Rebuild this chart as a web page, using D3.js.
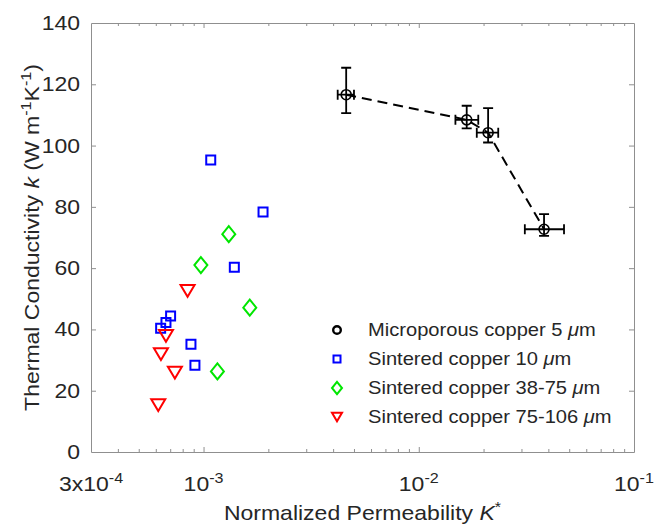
<!DOCTYPE html>
<html><head><meta charset="utf-8">
<script src="https://cdn.jsdelivr.net/npm/d3@7"></script>
<style>
body{margin:0;background:#fff}
svg text{font-family:"Liberation Sans",Arial,Helvetica,sans-serif;fill:#262626}
</style>
</head><body>
<svg id="c" width="654" height="527"></svg>
<script>
// ---------------- data ----------------
// Microporous copper 5 um (with error bars)
const microK      = [4.6e-3, 0.0167, 0.0210, 0.0382];
const microKLow   = [4.2e-3, 0.0148, 0.0186, 0.0311];
const microKHigh  = [5.0e-3, 0.0189, 0.0234, 0.0473];
const microk      = [116.6, 108.4, 104.2, 72.7];
const microkLow   = [110.6, 105.6, 101.0, 70.5];
const microkHigh  = [125.4, 113.0, 112.2, 77.6];
// Sintered copper 10 um
const s10K = [1.08e-3, 1.89e-3, 1.39e-3, 7.03e-4, 6.69e-4, 6.32e-4, 8.74e-4, 9.12e-4];
const s10k = [95.3, 78.3, 60.3, 44.4, 42.3, 40.4, 35.2, 28.3];
// Sintered copper 38-75 um
const s38K = [1.31e-3, 9.72e-4, 1.64e-3, 1.16e-3];
const s38k = [71.1, 61.0, 47.1, 26.3];
// Sintered copper 75-106 um
const s75K = [8.43e-4, 6.69e-4, 6.34e-4, 7.36e-4, 6.16e-4];
const s75k = [52.6, 37.9, 31.9, 25.9, 15.3];

const xDomain = [3e-4, 0.1];
const yDomain = [0, 140];
const xMajor = [3e-4, 1e-3, 1e-2, 1e-1];
const xTickBase = ["3x10", "10", "10", "10"];
const xTickExp = ["-4", "-3", "-2", "-1"];
const xMinor = [4e-4,5e-4,6e-4,7e-4,8e-4,9e-4,2e-3,3e-3,4e-3,5e-3,6e-3,7e-3,8e-3,9e-3,2e-2,3e-2,4e-2,5e-2,6e-2,7e-2,8e-2,9e-2];
const yTicks = [0, 20, 40, 60, 80, 100, 120, 140];
const legendLabels = ["Microporous copper 5 ", "Sintered copper 10 ", "Sintered copper 38-75 ", "Sintered copper 75-106 "];
const legendColors = ["#000000", "#0000ff", "#00e600", "#ff0000"];
const legendShapes = ["circle", "square", "diamond", "triangle"];

// ---------------- layout ----------------
const SX = 1.15; // horizontal glyph stretch
const svg = d3.select("#c");
const x = d3.scaleLog().domain(xDomain).range([91, 634]);
const y = d3.scaleLinear().domain(yDomain).range([452, 23]);
const axisColor = "#8f8f8f";

function stretch(sel, px, py, rot) {
  sel.attr("x", 0).attr("y", 0)
     .attr("transform", `translate(${px},${py})` + (rot ? ` rotate(${rot})` : "") + ` scale(${SX},1)`);
}
function rich(sel, parts, fs) {
  let prevSup = false;
  parts.forEach(p => {
    const t = sel.append("tspan").text(p.t);
    if (p.italic) t.attr("font-style", "italic");
    if (p.sup) { t.attr("font-size", fs * 0.7).attr("dy", prevSup ? 0 : -fs * 0.42); }
    else if (prevSup) { t.attr("dy", fs * 0.42); }
    prevSup = !!p.sup;
  });
}

// ---------------- axes ----------------
const gAx = svg.append("g");
function styleAxis(g) {
  g.selectAll("path.domain").attr("stroke", axisColor).attr("stroke-width", 1);
  g.selectAll(".tick line").attr("stroke", axisColor).attr("stroke-width", 1);
  g.selectAll(".tick text").remove();
}
[[d3.axisBottom, 452], [d3.axisTop, 23]].forEach(([ax, pos]) => {
  const gMaj = gAx.append("g").attr("transform", `translate(0,${pos})`)
    .call(ax(x).tickValues(xMajor.slice(1, 3)).tickSizeInner(-5).tickSizeOuter(0).tickFormat(""));
  styleAxis(gMaj);
  const gMin = gAx.append("g").attr("transform", `translate(0,${pos})`)
    .call(ax(x).tickValues(xMinor).tickSizeInner(-3).tickSizeOuter(0).tickFormat(""));
  styleAxis(gMin); gMin.select("path.domain").remove();
});
[[d3.axisLeft, 91], [d3.axisRight, 634]].forEach(([ax, pos]) => {
  const g = gAx.append("g").attr("transform", `translate(${pos},0)`)
    .call(ax(y).tickValues(yTicks.slice(1, -1)).tickSizeInner(-5).tickSizeOuter(0).tickFormat(""));
  styleAxis(g);
});

// y tick labels
const fsT = 20;
gAx.append("g").selectAll("text").data(yTicks).join("text")
  .attr("font-size", fsT).attr("text-anchor", "end")
  .text(d => d)
  .each(function(d) { stretch(d3.select(this), 80, y(d) + 7); });

// x tick labels
gAx.append("g").selectAll("text").data(xMajor).join("text")
  .attr("font-size", fsT).attr("text-anchor", "middle")
  .each(function(d, i) {
    const t = d3.select(this);
    rich(t, [{t: xTickBase[i]}, {t: xTickExp[i], sup: true}], fsT);
    stretch(t, x(d), 491);
  });

// axis labels
const fsL = 20;
const xl = svg.append("text").attr("font-size", fsL).attr("text-anchor", "middle");
rich(xl, [{t: "Normalized Permeability "}, {t: "K", italic: true}, {t: "*", sup: true}], fsL);
stretch(xl, (x.range()[0] + x.range()[1]) / 2, 520);

const yl = svg.append("text").attr("font-size", fsL).attr("text-anchor", "middle");
rich(yl, [{t: "Thermal Conductivity "}, {t: "k", italic: true}, {t: " (W m"}, {t: "-1", sup: true},
          {t: "K"}, {t: "-1", sup: true}, {t: ")"}], fsL);
stretch(yl, 39, (y.range()[0] + y.range()[1]) / 2, -90);

// ---------------- marks ----------------
const shapePath = {
  square: s => `M${-s/2},${-s/2}H${s/2}V${s/2}H${-s/2}Z`,
  diamond: s => `M0,${-s*0.62}L${s/2},0L0,${s*0.62}L${-s/2},0Z`,
  triangle: s => `M${-s/2},${-s*0.42}L${s/2},${-s*0.42}L0,${s*0.42}Z`
};
const plot = svg.append("g");

const micro = microK.map((K, i) => ({K, k: microk[i], KL: microKLow[i], KH: microKHigh[i], kL: microkLow[i], kH: microkHigh[i]}));
plot.append("path").datum(micro)
  .attr("d", d3.line().x(d => x(d.K)).y(d => y(d.k)))
  .attr("fill", "none").attr("stroke", "#000").attr("stroke-width", 2).attr("stroke-dasharray", "10,6");

const eb = plot.append("g").attr("stroke", "#000").attr("stroke-width", 1.8).attr("fill", "none");
const cap = 5;
micro.forEach(d => {
  const cx = x(d.K), cy = y(d.k);
  eb.append("path").attr("d",
    `M${cx},${y(d.kL)}V${y(d.kH)}` +
    `M${cx - cap},${y(d.kL)}H${cx + cap}M${cx - cap},${y(d.kH)}H${cx + cap}` +
    `M${x(d.KL)},${cy}H${x(d.KH)}` +
    `M${x(d.KL)},${cy - cap}V${cy + cap}M${x(d.KH)},${cy - cap}V${cy + cap}`);
});
plot.append("g").selectAll("circle").data(micro).join("circle")
  .attr("cx", d => x(d.K)).attr("cy", d => y(d.k)).attr("r", 5)
  .attr("fill", "none").attr("stroke", "#000").attr("stroke-width", 1.6);

function scatter(Ks, ks, shape, color, size) {
  plot.append("g").selectAll("path").data(Ks.map((K, i) => [K, ks[i]])).join("path")
    .attr("d", shapePath[shape](size))
    .attr("transform", d => `translate(${x(d[0])},${y(d[1])})`)
    .attr("fill", "none").attr("stroke", color).attr("stroke-width", 2);
}
scatter(s10K, s10k, "square", legendColors[1], 9);
scatter(s38K, s38k, "diamond", legendColors[2], 13);
scatter(s75K, s75k, "triangle", legendColors[3], 14);

// ---------------- legend ----------------
const leg = svg.append("g");
const fsG = 17.5;
legendLabels.forEach((lab, i) => {
  const ly = 330 + i * 29;
  const mx = 337;
  if (legendShapes[i] === "circle") {
    leg.append("circle").attr("cx", mx).attr("cy", ly).attr("r", 3.8)
      .attr("fill", "none").attr("stroke", legendColors[i]).attr("stroke-width", 2.4);
  } else {
    const sz = {square: 7, diamond: 10, triangle: 10}[legendShapes[i]];
    leg.append("path").attr("d", shapePath[legendShapes[i]](sz))
      .attr("transform", `translate(${mx},${ly})`)
      .attr("fill", "none").attr("stroke", legendColors[i]).attr("stroke-width", 2);
  }
  const t = leg.append("text").attr("font-size", fsG);
  rich(t, [{t: lab}, {t: "\u03bc", italic: true}, {t: "m"}], fsG);
  stretch(t, 368, ly + 6);
});
</script>
</body></html>
